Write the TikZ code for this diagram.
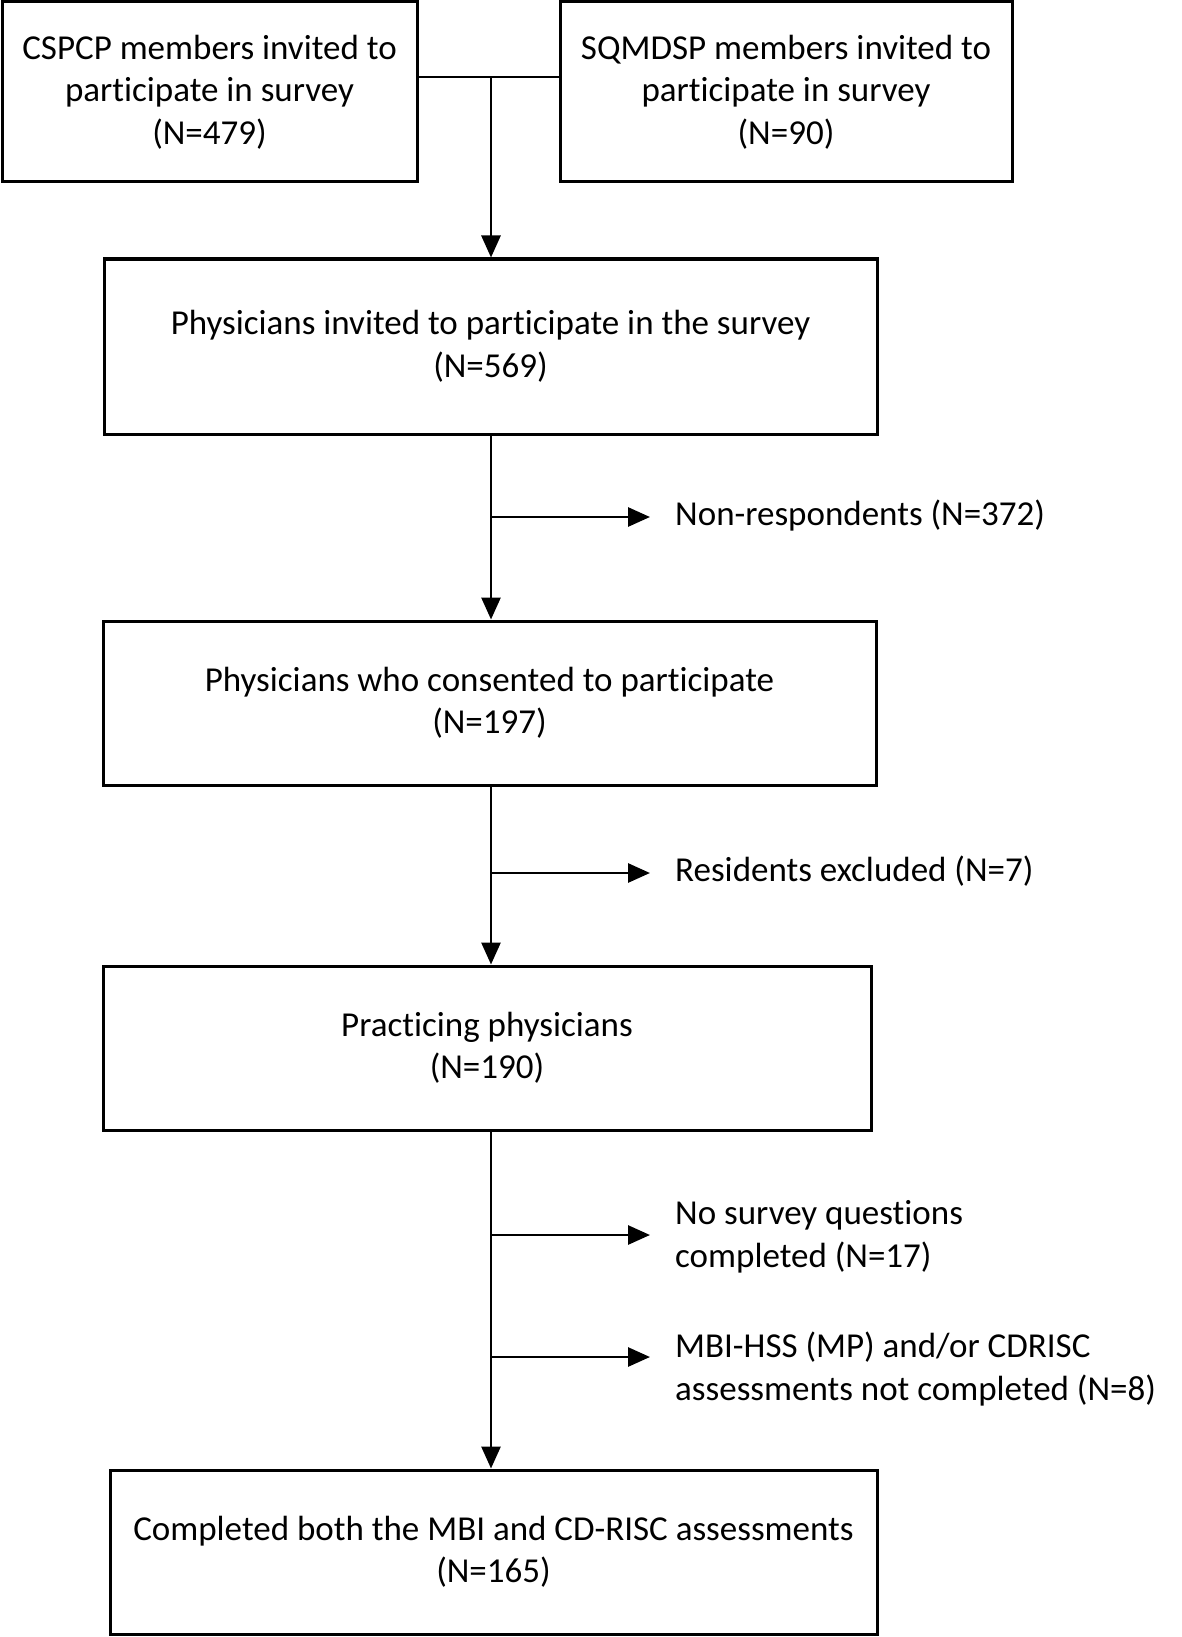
\documentclass[tikz,border=0pt]{standalone}
\usepackage{fontspec}
\setmainfont{Carlito}[Ligatures=CommonOff]
\usetikzlibrary{arrows.meta}
\begin{document}
\begin{tikzpicture}[x=1pt,y=-1pt,
  txt/.style={font=\fontsize{35}{42.5}\selectfont},
  box/.style={txt,draw,line width=3pt,inner sep=0pt,align=center},
  lbl/.style={txt,inner sep=0pt,align=left,anchor=west},
  conn/.style={line width=2.8pt},
  arr/.style={conn,-{Triangle[length=22pt,width=19pt]}}]
\useasboundingbox (0,0) rectangle (1181,1637);
\node[box,minimum width=415pt,minimum height=180pt] (a) at (209.5,92) {CSPCP members invited to\\participate in survey\\(N=479)};
\node[box,minimum width=452pt,minimum height=180pt] (b) at (786,92) {SQMDSP members invited to\\participate in survey\\(N=90)};
\node[box,minimum width=773pt,minimum height=175pt] (c) at (490.5,346.5) {Physicians invited to participate in the survey\\(N=569)};
\node[box,minimum width=773pt,minimum height=164pt] (d) at (489.5,703) {Physicians who consented to participate\\(N=197)};
\node[box,minimum width=768pt,minimum height=164pt] (e) at (487,1048) {Practicing physicians\\(N=190)};
\node[box,minimum width=767pt,minimum height=164pt] (f) at (493.5,1552) {Completed both the MBI and CD-RISC assessments\\(N=165)};
\node[lbl] (l1) at (675,516) {Non-respondents (N=372)};
\node[lbl] (l2) at (675,871) {Residents excluded (N=7)};
\node[lbl] (l3) at (675,1237) {No survey questions\\completed (N=17)};
\node[lbl] (l4) at (675,1369) {MBI-HSS (MP) and/or CDRISC\\assessments not completed (N=8)};
\coordinate (j) at (491,77);
\coordinate (b1) at (491,517);
\coordinate (b2) at (491,873);
\coordinate (b3) at (491,1235);
\coordinate (b4) at (491,1357);
\draw[conn] (a.east |- j) -- (b.west |- j);
\draw[arr] (j) -- (c.north -| j);
\draw[arr] (c.south -| j) -- (d.north -| j);
\draw[arr] (d.south -| j) -- (e.north -| j);
\draw[arr] (e.south -| j) -- (f.north -| j);
\draw[arr] (b1) -- ([xshift=-25pt]b1 -| l1.west);
\draw[arr] (b2) -- ([xshift=-25pt]b2 -| l2.west);
\draw[arr] (b3) -- ([xshift=-25pt]b3 -| l3.west);
\draw[arr] (b4) -- ([xshift=-25pt]b4 -| l4.west);
\end{tikzpicture}
\end{document}
